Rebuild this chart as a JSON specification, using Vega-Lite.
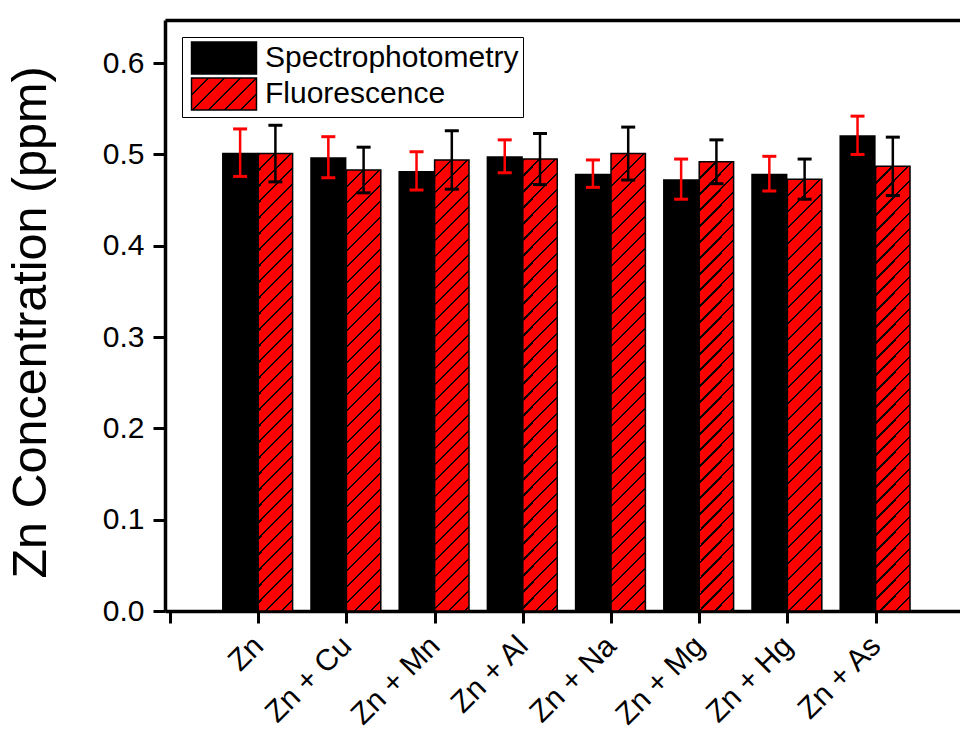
{
  "$schema": "https://vega.github.io/schema/vega-lite/v6.json",
  "width": 795,
  "height": 591,
  "autosize": {"type": "none"},
  "padding": {"left": 165, "top": 20, "right": 0, "bottom": 118},
  "background": "white",
  "config": {
    "view": {"stroke": null},
    "font": "Liberation Sans",
    "axis": {"grid": false, "domainColor": "black", "domainWidth": 3.5, "tickColor": "black", "tickWidth": 3, "tickSize": 12, "labelColor": "black", "labelFont": "Liberation Sans", "labelFontSize": 30, "titleFont": "Liberation Sans", "titleColor": "black", "titleFontWeight": "normal"}
  },
  "params": [
    {"name": "hatchStops", "value": [
      {"offset":0,"color":"#000"},{"offset":0.0044,"color":"#000"},{"offset":0.0044,"color":"#f00"},{"offset":0.03125,"color":"#f00"},
      {"offset":0.03125,"color":"#000"},{"offset":0.03565,"color":"#000"},{"offset":0.03565,"color":"#f00"},{"offset":0.0625,"color":"#f00"},
      {"offset":0.0625,"color":"#000"},{"offset":0.0669,"color":"#000"},{"offset":0.0669,"color":"#f00"},{"offset":0.09375,"color":"#f00"},
      {"offset":0.09375,"color":"#000"},{"offset":0.09815,"color":"#000"},{"offset":0.09815,"color":"#f00"},{"offset":0.125,"color":"#f00"},
      {"offset":0.125,"color":"#000"},{"offset":0.1294,"color":"#000"},{"offset":0.1294,"color":"#f00"},{"offset":0.15625,"color":"#f00"},
      {"offset":0.15625,"color":"#000"},{"offset":0.16065,"color":"#000"},{"offset":0.16065,"color":"#f00"},{"offset":0.1875,"color":"#f00"},
      {"offset":0.1875,"color":"#000"},{"offset":0.1919,"color":"#000"},{"offset":0.1919,"color":"#f00"},{"offset":0.21875,"color":"#f00"},
      {"offset":0.21875,"color":"#000"},{"offset":0.22315,"color":"#000"},{"offset":0.22315,"color":"#f00"},{"offset":0.25,"color":"#f00"},
      {"offset":0.25,"color":"#000"},{"offset":0.2544,"color":"#000"},{"offset":0.2544,"color":"#f00"},{"offset":0.28125,"color":"#f00"},
      {"offset":0.28125,"color":"#000"},{"offset":0.28565,"color":"#000"},{"offset":0.28565,"color":"#f00"},{"offset":0.3125,"color":"#f00"},
      {"offset":0.3125,"color":"#000"},{"offset":0.3169,"color":"#000"},{"offset":0.3169,"color":"#f00"},{"offset":0.34375,"color":"#f00"},
      {"offset":0.34375,"color":"#000"},{"offset":0.34815,"color":"#000"},{"offset":0.34815,"color":"#f00"},{"offset":0.375,"color":"#f00"},
      {"offset":0.375,"color":"#000"},{"offset":0.3794,"color":"#000"},{"offset":0.3794,"color":"#f00"},{"offset":0.40625,"color":"#f00"},
      {"offset":0.40625,"color":"#000"},{"offset":0.41065,"color":"#000"},{"offset":0.41065,"color":"#f00"},{"offset":0.4375,"color":"#f00"},
      {"offset":0.4375,"color":"#000"},{"offset":0.4419,"color":"#000"},{"offset":0.4419,"color":"#f00"},{"offset":0.46875,"color":"#f00"},
      {"offset":0.46875,"color":"#000"},{"offset":0.47315,"color":"#000"},{"offset":0.47315,"color":"#f00"},{"offset":0.5,"color":"#f00"},
      {"offset":0.5,"color":"#000"},{"offset":0.5044,"color":"#000"},{"offset":0.5044,"color":"#f00"},{"offset":0.53125,"color":"#f00"},
      {"offset":0.53125,"color":"#000"},{"offset":0.53565,"color":"#000"},{"offset":0.53565,"color":"#f00"},{"offset":0.5625,"color":"#f00"},
      {"offset":0.5625,"color":"#000"},{"offset":0.5669,"color":"#000"},{"offset":0.5669,"color":"#f00"},{"offset":0.59375,"color":"#f00"},
      {"offset":0.59375,"color":"#000"},{"offset":0.59815,"color":"#000"},{"offset":0.59815,"color":"#f00"},{"offset":0.625,"color":"#f00"},
      {"offset":0.625,"color":"#000"},{"offset":0.6294,"color":"#000"},{"offset":0.6294,"color":"#f00"},{"offset":0.65625,"color":"#f00"},
      {"offset":0.65625,"color":"#000"},{"offset":0.66065,"color":"#000"},{"offset":0.66065,"color":"#f00"},{"offset":0.6875,"color":"#f00"},
      {"offset":0.6875,"color":"#000"},{"offset":0.6919,"color":"#000"},{"offset":0.6919,"color":"#f00"},{"offset":0.71875,"color":"#f00"},
      {"offset":0.71875,"color":"#000"},{"offset":0.72315,"color":"#000"},{"offset":0.72315,"color":"#f00"},{"offset":0.75,"color":"#f00"},
      {"offset":0.75,"color":"#000"},{"offset":0.7544,"color":"#000"},{"offset":0.7544,"color":"#f00"},{"offset":0.78125,"color":"#f00"},
      {"offset":0.78125,"color":"#000"},{"offset":0.78565,"color":"#000"},{"offset":0.78565,"color":"#f00"},{"offset":0.8125,"color":"#f00"},
      {"offset":0.8125,"color":"#000"},{"offset":0.8169,"color":"#000"},{"offset":0.8169,"color":"#f00"},{"offset":0.84375,"color":"#f00"},
      {"offset":0.84375,"color":"#000"},{"offset":0.84815,"color":"#000"},{"offset":0.84815,"color":"#f00"},{"offset":0.875,"color":"#f00"},
      {"offset":0.875,"color":"#000"},{"offset":0.8794,"color":"#000"},{"offset":0.8794,"color":"#f00"},{"offset":0.90625,"color":"#f00"},
      {"offset":0.90625,"color":"#000"},{"offset":0.91065,"color":"#000"},{"offset":0.91065,"color":"#f00"},{"offset":0.9375,"color":"#f00"},
      {"offset":0.9375,"color":"#000"},{"offset":0.9419,"color":"#000"},{"offset":0.9419,"color":"#f00"},{"offset":0.96875,"color":"#f00"},
      {"offset":0.96875,"color":"#000"},{"offset":0.97315,"color":"#000"},{"offset":0.97315,"color":"#f00"},{"offset":1,"color":"#f00"}
    ]}
  ],
  "data": {"values": [
    {"sample": "Zn", "method": "Spectrophotometry", "value": 0.502, "err": 0.026},
    {"sample": "Zn", "method": "Fluorescence", "value": 0.501, "err": 0.031},
    {"sample": "Zn + Cu", "method": "Spectrophotometry", "value": 0.497, "err": 0.0225},
    {"sample": "Zn + Cu", "method": "Fluorescence", "value": 0.483, "err": 0.025},
    {"sample": "Zn + Mn", "method": "Spectrophotometry", "value": 0.482, "err": 0.021},
    {"sample": "Zn + Mn", "method": "Fluorescence", "value": 0.494, "err": 0.032},
    {"sample": "Zn + Al", "method": "Spectrophotometry", "value": 0.498, "err": 0.018},
    {"sample": "Zn + Al", "method": "Fluorescence", "value": 0.495, "err": 0.028},
    {"sample": "Zn + Na", "method": "Spectrophotometry", "value": 0.479, "err": 0.015},
    {"sample": "Zn + Na", "method": "Fluorescence", "value": 0.501, "err": 0.029},
    {"sample": "Zn + Mg", "method": "Spectrophotometry", "value": 0.473, "err": 0.022},
    {"sample": "Zn + Mg", "method": "Fluorescence", "value": 0.492, "err": 0.024},
    {"sample": "Zn + Hg", "method": "Spectrophotometry", "value": 0.479, "err": 0.019},
    {"sample": "Zn + Hg", "method": "Fluorescence", "value": 0.473, "err": 0.022},
    {"sample": "Zn + As", "method": "Spectrophotometry", "value": 0.521, "err": 0.021},
    {"sample": "Zn + As", "method": "Fluorescence", "value": 0.487, "err": 0.032}
  ]},
  "transform": [
    {"calculate": "indexof(['Zn','Zn + Cu','Zn + Mn','Zn + Al','Zn + Na','Zn + Mg','Zn + Hg','Zn + As'], datum.sample) + 1", "as": "idx"},
    {"calculate": "datum.method === 'Spectrophotometry' ? datum.idx - 0.41 : datum.idx", "as": "xa"},
    {"calculate": "datum.method === 'Spectrophotometry' ? datum.idx : datum.idx + 0.39", "as": "xb"},
    {"calculate": "(datum.xa + datum.xb) / 2", "as": "cx"},
    {"calculate": "datum.value - datum.err", "as": "lo"},
    {"calculate": "datum.value + datum.err", "as": "hi"},
    {"calculate": "{gradient: 'linear', x1: 0, y1: 0, x2: 34.8*512/(34.8*34.8 + pow(datum.value*913, 2)), y2: datum.value*913*512/(34.8*34.8 + pow(datum.value*913, 2)), stops: hatchStops}", "as": "hatch"}
  ],
  "resolve": {"scale": {"x": "shared"}, "axis": {"x": "independent"}},
  "layer": [
    {
      "mark": {"type": "bar", "orient": "vertical"},
      "encoding": {
        "x": {"field": "xa", "type": "quantitative", "scale": {"domain": [0, 8.9], "nice": false, "zero": false},
              "axis": {"orient": "bottom", "title": null, "values": [0,1,2,3,4,5,6,7,8], "labelExpr": "['','Zn','Zn + Cu','Zn + Mn','Zn + Al','Zn + Na','Zn + Mg','Zn + Hg','Zn + As'][datum.value]", "labelAngle": -45, "labelAlign": "right", "labelBaseline": "middle", "labelPadding": 18, "labelFlush": false, "labelOverlap": false}},
        "x2": {"field": "xb"},
        "y": {"field": "value", "type": "quantitative", "scale": {"domain": [0, 0.6473], "nice": false},
              "axis": {"title": "Zn Concentration (ppm)", "titleFontSize": 48.5, "titlePadding": 47, "titleY": 302, "values": [0,0.1,0.2,0.3,0.4,0.5,0.6], "format": ".1f", "labelPadding": 9, "labelFlush": false}},
        "y2": {"datum": 0},
        "color": {"field": "method", "type": "nominal",
                  "scale": {"domain": ["Spectrophotometry", "Fluorescence"], "range": ["black", {"expr": "{gradient: 'linear', x1: 0, y1: 0, x2: 6.34, y2: 3.12, stops: hatchStops}"}]},
                  "legend": {"title": null, "orient": "top-left", "offset": 17, "padding": 4, "strokeColor": "black", "fillColor": "white",
                             "labelFont": "Liberation Sans", "labelFontSize": 30, "labelColor": "black", "labelLimit": 500,
                             "symbolType": "M-2.03,-1H2.03V1H-2.03Z", "symbolSize": 1024, "symbolStrokeColor": "black", "symbolStrokeWidth": 1.5, "symbolOpacity": 1,
                             "symbolOffset": 21, "labelOffset": 24, "rowPadding": -2}}
      }
    },
    {
      "transform": [{"filter": "datum.method === 'Fluorescence'"}],
      "mark": {"type": "bar", "orient": "vertical", "stroke": "black", "strokeWidth": 1.5},
      "encoding": {
        "x": {"field": "xa", "type": "quantitative", "axis": null},
        "x2": {"field": "xb"},
        "y": {"field": "value", "type": "quantitative"},
        "y2": {"datum": 0},
        "fill": {"field": "hatch", "type": "nominal", "scale": null}
      }
    },
    {
      "mark": {"type": "rule", "strokeWidth": 2.5},
      "encoding": {
        "x": {"field": "cx", "type": "quantitative", "axis": {"orient": "top", "title": null, "ticks": false, "labels": false, "domain": true}},
        "y": {"field": "lo", "type": "quantitative"},
        "y2": {"field": "hi"},
        "color": {"condition": {"test": "datum.method === 'Spectrophotometry'", "value": "red"}, "value": "black"}
      }
    },
    {
      "mark": {"type": "tick", "orient": "horizontal", "size": 14, "thickness": 3, "opacity": 1},
      "encoding": {
        "x": {"field": "cx", "type": "quantitative", "axis": null},
        "y": {"field": "lo", "type": "quantitative"},
        "color": {"condition": {"test": "datum.method === 'Spectrophotometry'", "value": "red"}, "value": "black"}
      }
    },
    {
      "mark": {"type": "tick", "orient": "horizontal", "size": 14, "thickness": 3, "opacity": 1},
      "encoding": {
        "x": {"field": "cx", "type": "quantitative", "axis": null},
        "y": {"field": "hi", "type": "quantitative"},
        "color": {"condition": {"test": "datum.method === 'Spectrophotometry'", "value": "red"}, "value": "black"}
      }
    }
  ]
}
